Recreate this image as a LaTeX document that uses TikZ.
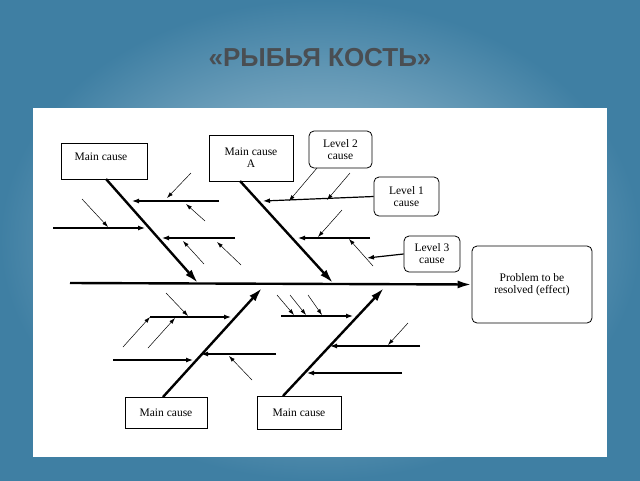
\documentclass[tikz,border=0pt]{standalone}
\usepackage{fontspec}
\setmainfont{Liberation Serif}
\newfontfamily\titlefont{Liberation Sans}
\usetikzlibrary{arrows.meta,positioning}
\definecolor{bgouter}{HTML}{3F7FA3}
\definecolor{bginner}{HTML}{B4D0DE}
\definecolor{titlegray}{HTML}{4A4E52}
\tikzset{
  box/.style={draw,thick,fill=white,align=center,font=\fontsize{11.5}{12}\selectfont,inner sep=0pt},
  rbox/.style={box,rounded corners=5pt},
  bone/.style={line width=2.4pt,-{Latex[length=14pt,width=8pt]}},
  sub/.style={line width=1.2pt,-{Latex[length=7pt,width=5pt]}},
  twig/.style={line width=.5pt,-{Latex[length=6pt,width=4pt]}}
}
\begin{document}
\begin{tikzpicture}[x=1pt,y=-1pt]
\useasboundingbox (0,0) rectangle (640,480);
\shade[outer color=bgouter,inner color=bginner] (0,0) rectangle (640,480);
\node[font=\titlefont\bfseries\fontsize{26}{28}\selectfont,text=titlegray] (title) at (320,58) {«РЫБЬЯ КОСТЬ»};
\fill[white] (33,108) rectangle (607,457);

% boxes
\node[box,minimum width=86pt,minimum height=36pt] (mcTL) at (104,161) {};
\node[font=\fontsize{11.5}{12}\selectfont] (mcTLtext) at (101,157) {Main cause};
\node[box,minimum width=84pt,minimum height=46pt] (mcA) at (251,158) {Main cause\\A};
\node[rbox,minimum width=63pt,minimum height=37pt] (lvl2) at (340.5,149.5) {Level 2\\cause};
\node[rbox,minimum width=65pt,minimum height=39pt] (lvl1) at (406.5,196.5) {Level 1\\cause};
\node[rbox,minimum width=56pt,minimum height=36pt] (lvl3) at (432,254) {Level 3\\cause};
\node[rbox,minimum width=120pt,minimum height=77pt] (effect) at (532,284.5) {Problem to be\\resolved (effect)};
\node[box,minimum width=82pt,minimum height=31pt] (mcBL) at (166,412.5) {Main cause};
\node[box,minimum width=84pt,minimum height=33pt] (mcBR) at (299,412.5) {Main cause};

% spine and main bones
\coordinate (tail) at (70,283);
\draw[bone] (tail) -- (effect.west);
\coordinate (tTL) at (106,179); \coordinate (hTL) at (198,283);
\coordinate (tA) at (240,181);  \coordinate (hA) at (333,283);
\coordinate (tBL) at (163,397); \coordinate (hBL) at (262,288);
\coordinate (tBR) at (283,396); \coordinate (hBR) at (384,288);
\draw[bone] (tTL) -- (hTL);
\draw[bone] (tA) -- (hA);
\draw[bone] (tBL) -- (hBL);
\draw[bone] (tBR) -- (hBR);

% top left bone
\draw[sub] (219,201) -- (132,201);
\draw[twig] (191,173) -- (167,198);
\draw[twig] (205,221) -- (186,204);
\draw[sub] (53,228) -- (145,228);
\draw[twig] (82,199) -- (108,227);
\draw[sub] (235,238) -- (162,238);
\draw[twig] (204,264) -- (183,241);
\draw[twig] (241,265) -- (217,242);

% top middle bone
\draw[sub] (lvl1.west) -- (263,201);
\draw[twig] (317,168) -- (289,201);
\draw[twig] (350,173) -- (327,200);
\draw[sub] (370,238) -- (298,238);
\draw[twig] (342,210) -- (318,237);
\draw[twig] (373,266) -- (349,239);
\draw[sub] (lvl3.west) -- (367,258);

% bottom left bone
\draw[sub] (150,317) -- (231,317);
\draw[twig] (166,293) -- (188,316);
\draw[twig] (123,347) -- (150,317);
\draw[twig] (148,348) -- (175,318);
\draw[sub] (113,360) -- (193,360);
\draw[sub] (276,354) -- (201,354);
\draw[twig] (252,380) -- (229,356);

% bottom right bone
\draw[sub] (281,316) -- (353,316);
\draw[twig] (277,295) -- (294,315);
\draw[twig] (290,295) -- (306,315);
\draw[twig] (308,295) -- (322,315);
\draw[sub] (420,346) -- (330,346);
\draw[twig] (408,323) -- (388,345);
\draw[sub] (402,373) -- (307,373);
\end{tikzpicture}
\end{document}
